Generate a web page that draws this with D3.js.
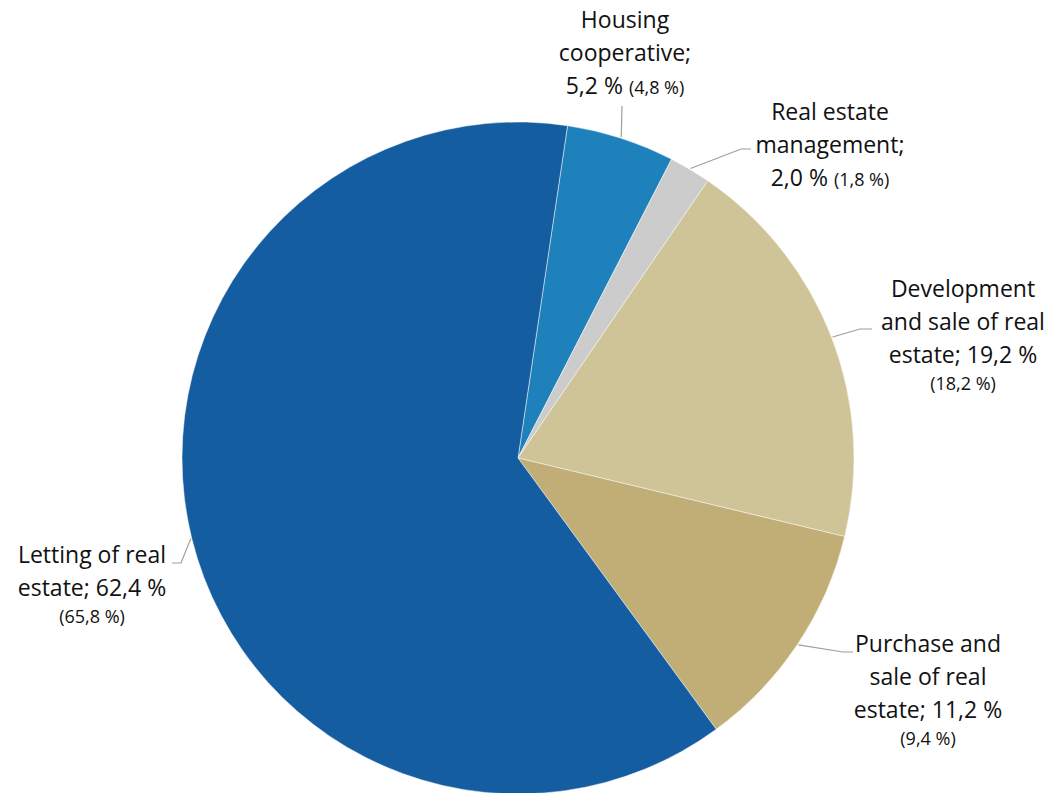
<!DOCTYPE html>
<html>
<head>
<meta charset="utf-8">
<script src="https://cdn.jsdelivr.net/npm/d3@7"></script>
<style>
  html, body { margin: 0; padding: 0; background: #ffffff; }
  svg { display: block; }
  text { font-family: "Open Sans", Lato, sans-serif; fill: #111111; }
</style>
</head>
<body>
<svg id="chart" width="1055" height="793"></svg>
<script>
// Share of enterprises by real estate activity (previous period in brackets)
const categories = [
  "Housing cooperative",
  "Real estate management",
  "Development and sale of real estate",
  "Purchase and sale of real estate",
  "Letting of real estate"
];
const shares = [5.2, 2.0, 19.2, 11.2, 62.4];
const previousShares = [4.8, 1.8, 18.2, 9.4, 65.8];
const colors = ["#1f81bb", "#cccccc", "#cfc497", "#c0ae76", "#145da0"];

// Label text lines, per slice
const labelLines = [
  ["Housing", "cooperative;"],
  ["Real estate", "management;"],
  ["Development", "and sale of real", "estate;"],
  ["Purchase and", "sale of real", "estate;"],
  ["Letting of real", "estate;"]
];

const width = 1055, height = 793;
const cx = 518, cy = 458, radius = 336;
const startAngle = 0.148;

// Label placement: anchor x, first baseline y, leader elbow / end points
const layout = [
  { x: 625, y: 28,  elbow: [622, 106], end: null },
  { x: 830, y: 120, elbow: [741, 149], end: [751, 149] },
  { x: 963, y: 297, elbow: [860, 329], end: [872, 329] },
  { x: 928, y: 652, elbow: [843, 652], end: [853, 652] },
  { x: 92,  y: 563, elbow: [181, 563], end: [172, 563] }
];

const bigSize = "23px", smallSize = "18px";
const fmt = v => d3.format(".1f")(v).replace(".", ",") + " %";

const svg = d3.select("#chart");
const g = svg.append("g").attr("transform", `translate(${cx},${cy})`);

const data = categories.map((c, i) => ({ name: c, value: shares[i], prev: previousShares[i], i }));

const pie = d3.pie()
  .sort(null)
  .value(d => d.value)
  .startAngle(startAngle)
  .endAngle(startAngle + 2 * Math.PI);

const arc = d3.arc().innerRadius(0).outerRadius(radius);
const arcs = pie(data);

g.selectAll("path.slice")
  .data(arcs)
  .join("path")
  .attr("class", "slice")
  .attr("d", arc)
  .attr("fill", d => colors[d.data.i])
  .attr("stroke", "#ffffff")
  .attr("stroke-width", 0.8)
  .attr("stroke-opacity", 0.6);

// Leader lines from the slice's outer edge to the label
const leader = d3.line();
arcs.forEach(a => {
  const mid = (a.startAngle + a.endAngle) / 2;
  const p0 = [cx + Math.sin(mid) * (radius + 1), cy - Math.cos(mid) * (radius + 1)];
  const L = layout[a.data.i];
  const pts = [p0, L.elbow];
  if (L.end) pts.push(L.end);
  svg.append("path")
    .attr("d", leader(pts))
    .attr("fill", "none")
    .attr("stroke", "#a89c91")
    .attr("stroke-width", 1.2);
});

// Labels
const lineH = 33;
arcs.forEach(a => {
  const i = a.data.i;
  const L = layout[i];
  const lines = labelLines[i];
  const t = svg.append("text")
    .attr("x", L.x)
    .attr("y", L.y)
    .attr("text-anchor", "middle")
    .style("font-size", bigSize);

  const valueOnOwnLine = (i === 0 || i === 1);
  lines.forEach((ln, k) => {
    const isLast = k === lines.length - 1;
    t.append("tspan")
      .attr("x", L.x)
      .attr("y", L.y + k * lineH)
      .text(isLast && !valueOnOwnLine ? ln + " " + fmt(a.data.value) : ln);
  });

  const nBig = lines.length;
  if (valueOnOwnLine) {
    // value on its own line, previous share inline in smaller type
    const tv = svg.append("text")
      .attr("x", L.x)
      .attr("y", L.y + nBig * lineH)
      .attr("text-anchor", "middle")
      .style("font-size", bigSize);
    tv.append("tspan").text(fmt(a.data.value) + " ");
    tv.append("tspan").style("font-size", smallSize).text("(" + fmt(a.data.prev) + ")");
  } else {
    svg.append("text")
      .attr("x", L.x)
      .attr("y", L.y + (nBig - 1) * lineH + 27)
      .attr("text-anchor", "middle")
      .style("font-size", smallSize)
      .text("(" + fmt(a.data.prev) + ")");
  }
});
</script>
</body>
</html>
